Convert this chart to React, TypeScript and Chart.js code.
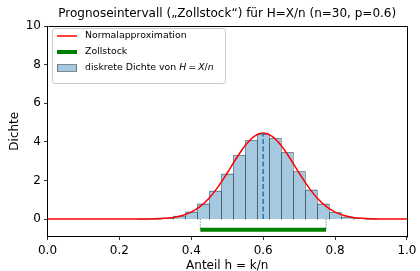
import React, { useEffect, useRef } from "react";
import { Chart, registerables } from "chart.js";

Chart.register(...registerables);

// ---- data ----
const n = 30;
const kValues = [8, 9, 10, 11, 12, 13, 14, 15, 16, 17, 18, 19, 20, 21, 22, 23, 24, 25, 26, 27];
const densityValues = [0.005, 0.019, 0.06, 0.163, 0.388, 0.806, 1.468, 2.349, 3.304, 4.081, 4.421, 4.189, 3.456, 2.468, 1.515, 0.79, 0.346, 0.124, 0.036, 0.008];

const normX = [0, 0.1, 0.2, 0.225, 0.25, 0.275, 0.3, 0.325, 0.35, 0.375, 0.4, 0.425, 0.45, 0.475, 0.5, 0.525, 0.55, 0.575, 0.6, 0.625, 0.65, 0.675, 0.7, 0.725, 0.75, 0.775, 0.8, 0.825, 0.85, 0.875, 0.9, 0.925, 0.95, 0.975, 1.0];
const normY = [0, 0, 0.0002, 0.0007, 0.0021, 0.0061, 0.0161, 0.0395, 0.0897, 0.188, 0.366, 0.658, 1.093, 1.68, 2.388, 3.138, 3.815, 4.29, 4.46, 4.29, 3.815, 3.138, 2.388, 1.68, 1.093, 0.658, 0.366, 0.188, 0.0897, 0.0395, 0.0161, 0.0061, 0.0021, 0.0007, 0.0002];

const meanH = 0.6;
const peakDensity = 4.46;
const intervalLow = 0.425;
const intervalHigh = 0.775;
const stickLevel = -0.55;

const xTicks = [0, 0.2, 0.4, 0.6, 0.8, 1.0];
const yTicks = [0, 2, 4, 6, 8, 10];
const xRange = [0, 1];
const yRange = [-0.9, 10];

const titleText = "Prognoseintervall (\u201EZollstock\u201C) f\u00FCr H=X/n (n=30, p=0.6)";
const xLabel = "Anteil h = k/n";
const yLabel = "Dichte";
const legendLabels = ["Normalapproximation", "Zollstock", "diskrete Dichte von "];

const FONT = '"DejaVu Sans", sans-serif';
const C0 = "#1f77b4";
const BAR_FILL = "#a5c9e1";
const BAR_EDGE = "rgba(0,0,0,0.3)";
const BAR_DATASET = 5;

const edgePlugin = {
  id: "edges",
  afterDatasetDraw(chart: any, args: any) {
    if (args.index !== BAR_DATASET) return;
    const { ctx } = chart;
    const meta = chart.getDatasetMeta(BAR_DATASET);
    ctx.save();
    ctx.strokeStyle = BAR_EDGE;
    ctx.lineWidth = 1;
    for (const el of meta.data) {
      const p = el.getProps(["x", "y", "base", "width"], true);
      const l = Math.round(p.x - p.width / 2) + 0.5;
      const r = Math.round(p.x + p.width / 2) + 0.5;
      const t = Math.round(p.y) + 0.5;
      const b = Math.round(p.base) + 0.5;
      ctx.beginPath();
      ctx.moveTo(l, b);
      ctx.lineTo(l, t);
      ctx.lineTo(r, t);
      ctx.lineTo(r, b);
      ctx.stroke();
    }
    ctx.restore();
  },
};

const decorPlugin = {
  id: "decor",
  afterDraw(chart: any) {
    const { ctx, chartArea } = chart;
    const { left, right, top, bottom } = chartArea;
    ctx.save();
    ctx.strokeStyle = "#000";
    ctx.lineWidth = 1;
    ctx.beginPath();
    ctx.moveTo(Math.round(left) + 0.5, Math.round(top) + 0.5);
    ctx.lineTo(Math.round(right) + 0.5, Math.round(top) + 0.5);
    ctx.lineTo(Math.round(right) + 0.5, Math.round(bottom) + 0.5);
    ctx.stroke();

    const cx = (left + right) / 2;
    ctx.fillStyle = "#000";
    ctx.textAlign = "center";
    ctx.textBaseline = "middle";
    ctx.font = `12px ${FONT}`;
    ctx.fillText(titleText, cx, 14);
    ctx.fillText(xLabel, cx, 266);
    ctx.save();
    ctx.translate(15, (top + bottom) / 2);
    ctx.rotate(-Math.PI / 2);
    ctx.fillText(yLabel, 0, 0);
    ctx.restore();

    // legend
    const lx = 52.5, ly = 28.5, lw = 173, lh = 55, r = 2.5;
    ctx.beginPath();
    ctx.moveTo(lx + r, ly);
    ctx.lineTo(lx + lw - r, ly);
    ctx.quadraticCurveTo(lx + lw, ly, lx + lw, ly + r);
    ctx.lineTo(lx + lw, ly + lh - r);
    ctx.quadraticCurveTo(lx + lw, ly + lh, lx + lw - r, ly + lh);
    ctx.lineTo(lx + r, ly + lh);
    ctx.quadraticCurveTo(lx, ly + lh, lx, ly + lh - r);
    ctx.lineTo(lx, ly + r);
    ctx.quadraticCurveTo(lx, ly, lx + r, ly);
    ctx.closePath();
    ctx.fillStyle = "rgba(255,255,255,0.8)";
    ctx.fill();
    ctx.strokeStyle = "#cccccc";
    ctx.lineWidth = 1;
    ctx.stroke();

    const hx0 = 57, hx1 = 77, tx = 85;
    const rows = [36, 52, 68];
    ctx.strokeStyle = "#ff0000";
    ctx.lineWidth = 1.5;
    ctx.beginPath();
    ctx.moveTo(hx0, rows[0]);
    ctx.lineTo(hx1, rows[0]);
    ctx.stroke();
    ctx.strokeStyle = "#008000";
    ctx.lineWidth = 4;
    ctx.beginPath();
    ctx.moveTo(hx0, rows[1]);
    ctx.lineTo(hx1, rows[1]);
    ctx.stroke();
    ctx.fillStyle = BAR_FILL;
    ctx.fillRect(hx0, rows[2] - 3.5, hx1 - hx0, 7);
    ctx.strokeStyle = "rgba(0,0,0,0.4)";
    ctx.lineWidth = 1;
    ctx.strokeRect(hx0 + 0.5, rows[2] - 3.5, hx1 - hx0 - 1, 7);

    ctx.fillStyle = "#000";
    ctx.textAlign = "left";
    ctx.textBaseline = "middle";
    const fs = 9.4;
    ctx.font = `${fs}px ${FONT}`;
    ctx.fillText(legendLabels[0], tx, rows[0]);
    ctx.fillText(legendLabels[1], tx, rows[1]);
    let x = tx;
    ctx.fillText(legendLabels[2], x, rows[2]);
    x += ctx.measureText(legendLabels[2]).width;
    const seg = (t: string, italic: boolean) => {
      ctx.font = `${italic ? "italic " : ""}${fs}px ${FONT}`;
      ctx.fillText(t, x, rows[2]);
      x += ctx.measureText(t).width;
    };
    seg("H", true);
    x += 2;
    seg("=", false);
    x += 2;
    seg("X", true);
    seg("/", false);
    seg("n", true);
    ctx.restore();
  },
};

export default function App() {
  const ref = useRef<HTMLCanvasElement | null>(null);
  useEffect(() => {
    if (!ref.current) return;
    const barData = kValues.map((k, i) => ({ x: k / n, y: densityValues[i] }));
    const normData = normX.map((x, i) => ({ x, y: normY[i] }));
    const chart = new Chart(ref.current, {
      type: "bar",
      data: {
        datasets: [
          {
            type: "line",
            data: [
              { x: meanH, y: 0 },
              { x: meanH, y: peakDensity },
            ],
            borderColor: C0,
            borderWidth: 1.5,
            borderDash: [5, 2.5],
            pointRadius: 0,
          } as any,
          {
            type: "line",
            data: normData,
            borderColor: "#ff0000",
            borderWidth: 1.5,
            cubicInterpolationMode: "monotone",
            pointRadius: 0,
          } as any,
          {
            type: "line",
            data: [
              { x: intervalLow, y: stickLevel },
              { x: intervalHigh, y: stickLevel },
            ],
            borderColor: "#008000",
            borderWidth: 4,
            borderCapStyle: "butt",
            pointRadius: 0,
          } as any,
          {
            type: "line",
            data: [
              { x: intervalLow, y: 0 },
              { x: intervalLow, y: stickLevel },
            ],
            borderColor: C0,
            borderWidth: 1,
            borderDash: [1, 1.7],
            pointRadius: 0,
          } as any,
          {
            type: "line",
            data: [
              { x: intervalHigh, y: 0 },
              { x: intervalHigh, y: stickLevel },
            ],
            borderColor: C0,
            borderWidth: 1,
            borderDash: [1, 1.7],
            pointRadius: 0,
          } as any,
          {
            type: "bar",
            data: barData,
            backgroundColor: BAR_FILL,
            borderWidth: 0,
            barPercentage: 1,
            categoryPercentage: 1,
          } as any,
        ],
      },
      options: {
        responsive: false,
        animation: false,
        events: [],
        layout: { padding: { top: 26, right: 11, left: 0, bottom: 0 } },
        plugins: { legend: { display: false }, tooltip: { enabled: false }, title: { display: false } },
        scales: {
          x: {
            type: "linear",
            min: xRange[0],
            max: xRange[1],
            offset: false,
            afterBuildTicks: (s: any) => {
              s.ticks = xTicks.map((v) => ({ value: v }));
            },
            afterFit: (s: any) => {
              s.height = 34.5;
            },
            ticks: {
              autoSkip: false,
              maxRotation: 0,
              padding: 3.5,
              color: "#000",
              font: { family: FONT, size: 12 },
              callback: (v: any) => Number(v).toFixed(1),
            },
            grid: { offset: false, drawOnChartArea: false, drawTicks: true, tickLength: 3.5, color: "#000", tickWidth: 0.8 },
            border: { display: true, color: "#000", width: 1 },
          },
          y: {
            type: "linear",
            min: yRange[0],
            max: yRange[1],
            afterBuildTicks: (s: any) => {
              s.ticks = yTicks.map((v) => ({ value: v }));
            },
            afterFit: (s: any) => {
              s.width = 47.5;
            },
            ticks: {
              autoSkip: false,
              padding: 3,
              color: "#000",
              font: { family: FONT, size: 12 },
              callback: (v: any) => String(v),
            },
            grid: { drawOnChartArea: false, drawTicks: true, tickLength: 3.5, color: "#000", tickWidth: 0.8 },
            border: { display: true, color: "#000", width: 1 },
          },
        },
      } as any,
      plugins: [edgePlugin, decorPlugin],
    });
    return () => chart.destroy();
  }, []);
  return (
    <div style={{ position: "fixed", left: 0, top: 0, width: 420, height: 271, background: "#fff" }}>
      <canvas ref={ref} width={420} height={271} style={{ display: "block", width: 420, height: 271 }} />
    </div>
  );
}
